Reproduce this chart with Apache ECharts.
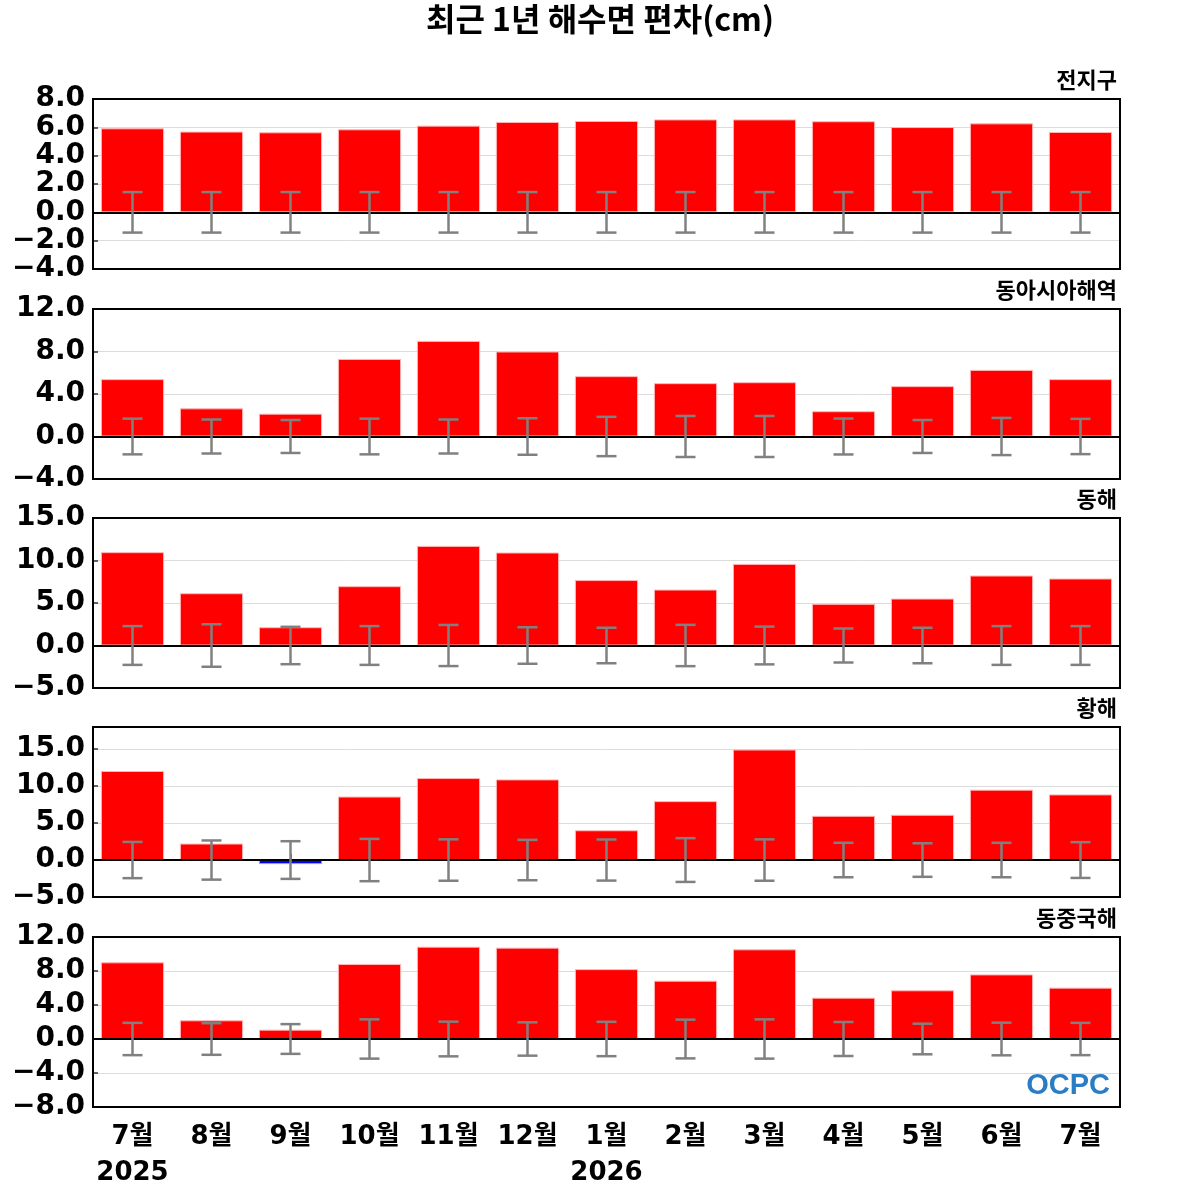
<!DOCTYPE html>
<html>
<head>
<meta charset="utf-8">
<script src="https://cdn.jsdelivr.net/npm/echarts@6/dist/echarts.min.js"></script>
<style>html,body{margin:0;padding:0;background:#fff}#c{width:1200px;height:1200px}</style>
</head>
<body>
<div id="c"></div>
<script>
// ---- data ----
const categories = ['7월','8월','9월','10월','11월','12월','1월','2월','3월','4월','5월','6월','7월'];
const yearLabels = {0: '2025', 6: '2026'};
const panelNames = ['전지구','동아시아해역','동해','황해','동중국해'];

const globalVals = [5.93,5.70,5.65,5.86,6.12,6.38,6.45,6.56,6.56,6.43,6.02,6.28,5.67];
const globalErr  = [1.43,1.43,1.43,1.43,1.43,1.43,1.43,1.43,1.43,1.43,1.43,1.43,1.43];

const eastAsiaVals = [5.40,2.65,2.15,7.30,9.00,8.00,5.68,5.02,5.11,2.38,4.74,6.27,5.40];
const eastAsiaErr  = [1.68,1.60,1.55,1.68,1.60,1.72,1.85,1.93,1.93,1.69,1.55,1.75,1.66];

const eastSeaVals = [10.98,6.15,2.15,6.98,11.72,10.94,7.70,6.58,9.60,4.90,5.52,8.23,7.88];
const eastSeaErr  = [2.28,2.50,2.20,2.28,2.42,2.15,2.09,2.43,2.22,2.00,2.09,2.28,2.28];

const yellowSeaVals = [12.05,2.23,-0.55,8.59,11.09,10.91,4.03,7.97,14.95,5.98,6.12,9.52,8.88];
const yellowSeaErr  = [2.45,2.65,2.55,2.86,2.80,2.73,2.78,2.96,2.80,2.33,2.27,2.33,2.42];

const ecsVals = [9.02,2.20,1.10,8.82,10.86,10.75,8.22,6.86,10.55,4.86,5.73,7.60,6.04];
const ecsErr  = [1.90,1.86,1.75,2.31,2.04,1.96,2.02,2.28,2.31,2.00,1.80,1.92,1.90];

const yMins = [-4, -4, -5, -5, -8];
const yMaxs = [8, 12, 15, 18, 12];
const yIntervals = [2, 4, 5, 5, 4];

// ---- layout ----
const panelVals = [globalVals, eastAsiaVals, eastSeaVals, yellowSeaVals, ecsVals];
const panelErrs = [globalErr, eastAsiaErr, eastSeaErr, yellowSeaErr, ecsErr];
const tops = [99, 309, 518, 727, 937];
const H = 170, LEFT = 93, RIGHT = 80;
const FONT = "'DejaVu Sans','Noto Sans CJK KR',sans-serif";
const KFONT = "'Noto Sans CJK KR','DejaVu Sans',sans-serif";

function fmt(v){ return (v < 0 ? '\u2212' : '') + Math.abs(v).toFixed(1); }

const grids = [], xAxes = [], yAxes = [], series = [], graphics = [];
for (let i = 0; i < 5; i++) {
  grids.push({left: LEFT, right: RIGHT, top: tops[i], height: H, show: true,
    borderColor: '#000', borderWidth: 2, backgroundColor: 'transparent', z: 10});
  const last = i === 4;
  xAxes.push({type: 'category', gridIndex: i, data: categories,
    axisLine: {show: false},
    axisTick: {show: true, inside: true, alignWithLabel: true, length: 6, lineStyle: {color: '#333', width: 1.5}},
    axisLabel: {show: last, interval: 0, margin: 12, color: '#000', fontSize: 26, fontWeight: 'bold', fontFamily: FONT,
      lineHeight: 36,
      formatter: (v, idx) => yearLabels[idx] ? v + '\n' + yearLabels[idx] : v},
    splitLine: {show: false}});
  yAxes.push({type: 'value', gridIndex: i, min: yMins[i], max: yMaxs[i], interval: yIntervals[i],
    axisLine: {show: false},
    axisTick: {show: true, inside: true, length: 5, lineStyle: {color: '#333', width: 1.5}},
    axisLabel: {color: '#000', fontSize: 28, fontWeight: 'bold', fontFamily: FONT, margin: 8,
      padding: [6, 0, 0, 0],
      showMaxLabel: yMaxs[i] % yIntervals[i] === 0, formatter: fmt},
    splitLine: {show: true, lineStyle: {color: '#dcdcdc', width: 1}}});

  const vals = panelVals[i];
  series.push({type: 'bar', xAxisIndex: i, yAxisIndex: i, barWidth: '80%',
    data: vals.map(v => ({value: v, itemStyle: v < 0
      ? {color: '#0000ff', borderColor: '#9c9cff', borderWidth: 1}
      : {color: '#ff0000', borderColor: '#ffb4b4', borderWidth: 1}})),
    markLine: {silent: true, symbol: 'none', label: {show: false},
      lineStyle: {color: '#000', width: 2, type: 'solid'}, data: [{yAxis: 0}]},
    z: 2});
  const errs = panelErrs[i];
  series.push({type: 'custom', xAxisIndex: i, yAxisIndex: i, z: 5,
    data: errs.map((e, k) => [k, -e, e]),
    renderItem: function(params, api){
      const x = api.value(0);
      const lo = api.coord([x, api.value(1)]);
      const hi = api.coord([x, api.value(2)]);
      const hw = 10;
      const st = {stroke: '#808080', lineWidth: 2.5};
      return {type: 'group', children: [
        {type: 'line', shape: {x1: hi[0], y1: hi[1], x2: lo[0], y2: lo[1]}, style: st},
        {type: 'line', shape: {x1: hi[0]-hw, y1: hi[1], x2: hi[0]+hw, y2: hi[1]}, style: st},
        {type: 'line', shape: {x1: lo[0]-hw, y1: lo[1], x2: lo[0]+hw, y2: lo[1]}, style: st}
      ]};
    }});
  graphics.push({type: 'text', right: 83, top: tops[i] - 30,
    style: {text: panelNames[i], fill: '#000', font: "bold 22px " + KFONT}});
}

graphics.push({type: 'text', left: 'center', top: 3,
  style: {text: '최근 1년 해수면 편차(cm)', fill: '#000', font: "bold 32px " + KFONT}});

graphics.push({type: 'text', right: 90, top: 1071,
  style: {text: 'OCPC', font: "bold 29px 'Liberation Sans','DejaVu Sans',sans-serif", fill: '#2a7cc4'}});

const chart = echarts.init(document.getElementById('c'), null, {renderer: 'canvas'});
chart.setOption({
  animation: false,
  backgroundColor: '#fff',
  grid: grids, xAxis: xAxes, yAxis: yAxes, series: series, graphic: graphics
});
</script>
</body>
</html>
